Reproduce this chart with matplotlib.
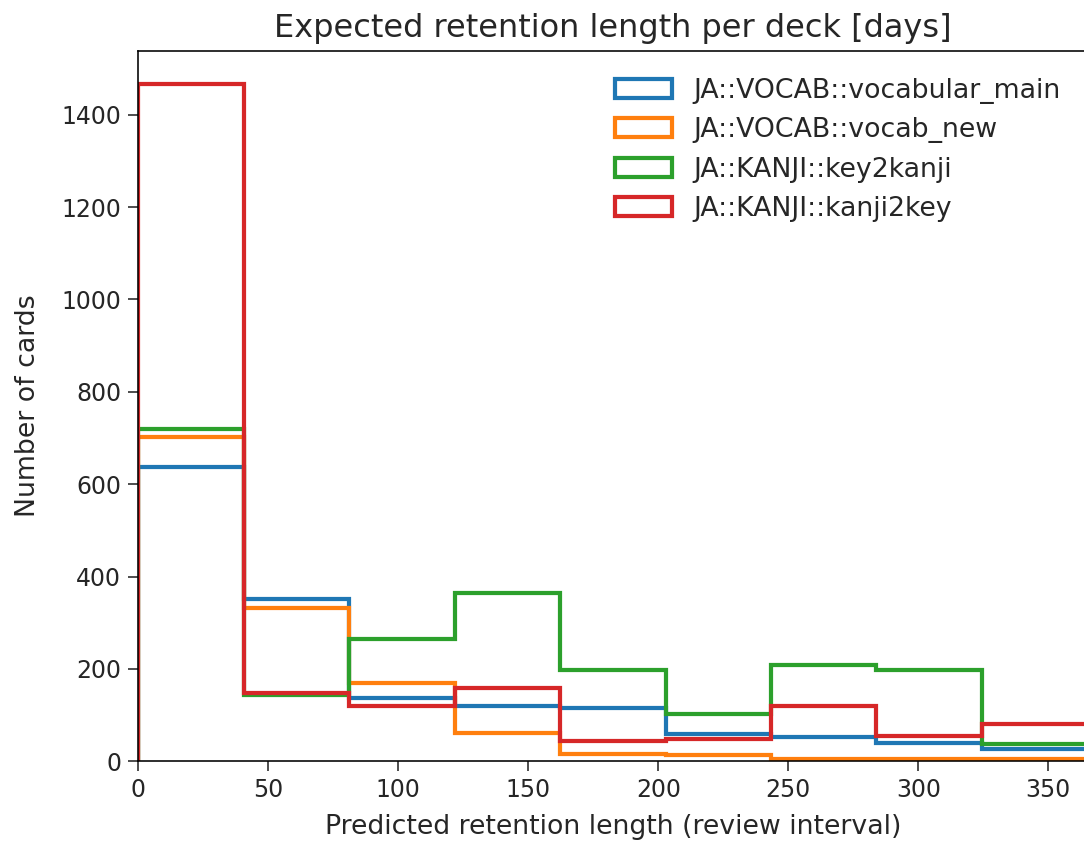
import numpy as np
import matplotlib
matplotlib.use("Agg")
import matplotlib.pyplot as plt

# bin edges of the retention histogram (days)
edges = [0, 40.56, 81.11, 121.67, 162.22, 202.78, 243.33, 283.89, 324.44, 365]

decks = ["JA::VOCAB::vocabular_main", "JA::VOCAB::vocab_new",
         "JA::KANJI::key2kanji", "JA::KANJI::kanji2key"]
colors = ["#1f77b4", "#ff7f0e", "#2ca02c", "#d62728"]

vocabular_main = [637, 351, 137, 120, 115, 59, 53, 39, 26]
vocab_new = [703, 331, 170, 61, 15, 14, 4, 4, 5]
key2kanji = [720, 144, 264, 364, 198, 103, 208, 198, 37]
kanji2key = [1467, 149, 120, 158, 44, 48, 120, 55, 81]

counts = [vocabular_main, vocab_new, key2kanji, kanji2key]

plt.rcParams["text.color"] = "#262626"
plt.rcParams["axes.labelcolor"] = "#262626"
plt.rcParams["xtick.color"] = "#262626"
plt.rcParams["ytick.color"] = "#262626"

fig = plt.figure(figsize=(1084 / 144, 842 / 144), dpi=144)
ax = fig.add_axes([0.1276, 0.0958, 0.8754, 0.8436])

centers = [(a + b) / 2 for a, b in zip(edges[:-1], edges[1:])]
for name, c, col in zip(decks, counts, colors):
    ax.hist(centers, bins=edges, weights=c, histtype="step",
            linewidth=2.1, color=col, label=name)

ax.set_xlim(0, 365)
ax.set_ylim(0, 1538)
ax.set_xticks([0, 50, 100, 150, 200, 250, 300, 350])
ax.set_yticks([0, 200, 400, 600, 800, 1000, 1200, 1400])
ax.tick_params(labelsize=11.8, length=5)
ax.set_title("Expected retention length per deck [days]", fontsize=16, pad=7)
ax.set_xlabel("Predicted retention length (review interval)", fontsize=13.4,
              labelpad=6)
ax.set_ylabel("Number of cards", fontsize=13.4, labelpad=10)
ax.legend(loc="upper right", frameon=False, fontsize=13.4,
          handlelength=2.1, borderaxespad=0.6)

fig.savefig("out.png", dpi=144)
